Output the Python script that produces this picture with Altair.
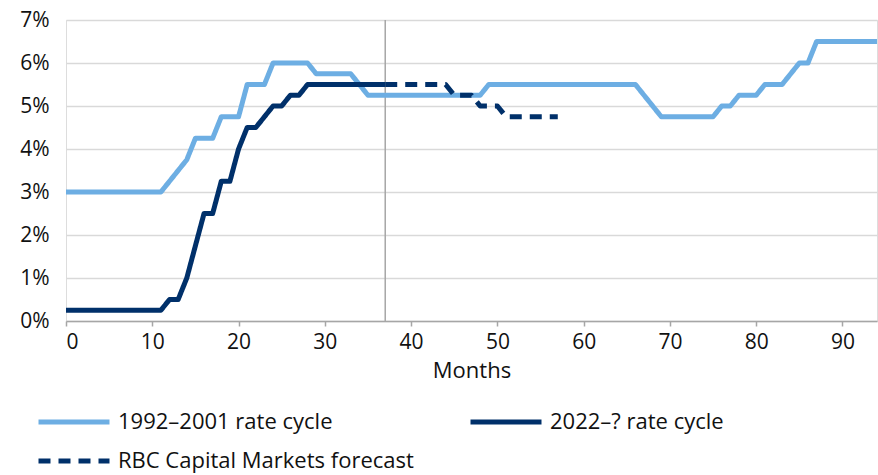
import altair as alt
import pandas as pd

SERIES = ["1992–2001 rate cycle", "2022–? rate cycle", "RBC Capital Markets forecast"]
COLORS = ["#6DAEE3", "#00306A", "#00306A"]

# 1992–2001 cycle, monthly, months 0..94
cycle_1992 = [
    3.0, 3.0, 3.0, 3.0, 3.0, 3.0, 3.0, 3.0, 3.0, 3.0,      # 0-9
    3.0, 3.0, 3.25, 3.5, 3.75, 4.25, 4.25, 4.25, 4.75, 4.75,  # 10-19
    4.75, 5.5, 5.5, 5.5, 6.0, 6.0, 6.0, 6.0, 6.0, 5.75,    # 20-29
    5.75, 5.75, 5.75, 5.75, 5.5, 5.25, 5.25, 5.25, 5.25, 5.25,  # 30-39
    5.25, 5.25, 5.25, 5.25, 5.25, 5.25, 5.25, 5.25, 5.25, 5.5,  # 40-49
    5.5, 5.5, 5.5, 5.5, 5.5, 5.5, 5.5, 5.5, 5.5, 5.5,      # 50-59
    5.5, 5.5, 5.5, 5.5, 5.5, 5.5, 5.5, 5.25, 5.0, 4.75,    # 60-69
    4.75, 4.75, 4.75, 4.75, 4.75, 4.75, 5.0, 5.0, 5.25, 5.25,  # 70-79
    5.25, 5.5, 5.5, 5.5, 5.75, 6.0, 6.0, 6.5, 6.5, 6.5,    # 80-89
    6.5, 6.5, 6.5, 6.5, 6.5,                               # 90-94
]
# 2022–? cycle, months 0..37
cycle_2022 = [
    0.25, 0.25, 0.25, 0.25, 0.25, 0.25, 0.25, 0.25, 0.25, 0.25,  # 0-9
    0.25, 0.25, 0.5, 0.5, 1.0, 1.75, 2.5, 2.5, 3.25, 3.25,       # 10-19
    4.0, 4.5, 4.5, 4.75, 5.0, 5.0, 5.25, 5.25, 5.5, 5.5,         # 20-29
    5.5, 5.5, 5.5, 5.5, 5.5, 5.5, 5.5, 5.5,                      # 30-37
]
# RBC Capital Markets forecast, months 37..57
forecast_start = 37
forecast = [
    5.5, 5.5, 5.5, 5.5, 5.5, 5.5, 5.5, 5.5,   # 37-44
    5.25, 5.25, 5.25, 5.0, 5.0, 5.0,          # 45-50
    4.75, 4.75, 4.75, 4.75, 4.75, 4.75, 4.75, # 51-57
]
current_month = 37

rows = []
for i, v in enumerate(cycle_1992):
    rows.append({"month": i, "rate": v, "series": SERIES[0]})
for i, v in enumerate(cycle_2022):
    rows.append({"month": i, "rate": v, "series": SERIES[1]})
for i, v in enumerate(forecast):
    rows.append({"month": forecast_start + i, "rate": v, "series": SERIES[2]})
df = pd.DataFrame(rows)

FONT = "Open Sans"
FS = 21
FS_TEXT = 22
TXT = "#111111"

x_enc = alt.X(
    "month:Q",
    scale=alt.Scale(domain=[0, 94], nice=False, zero=False),
    axis=alt.Axis(
        values=list(range(0, 100, 10)), title="Months", grid=False,
        domainColor="#A6A6A6", domainWidth=1.5, tickColor="#A6A6A6", tickWidth=1.5,
        tickSize=5, labelFontSize=FS, titleFontSize=FS_TEXT, titleFontWeight="normal",
        labelColor=TXT, titleColor=TXT, labelPadding=5, titlePadding=8,
        labelFont=FONT, titleFont=FONT,
    ),
)
y_enc = alt.Y(
    "rate:Q",
    scale=alt.Scale(domain=[0, 7], nice=False),
    axis=alt.Axis(
        values=[0, 1, 2, 3, 4, 5, 6, 7], title=None, domain=False, ticks=False,
        gridColor="#D9D9D9", gridWidth=1.5, labelFontSize=FS, labelColor=TXT,
        labelPadding=17, labelFont=FONT, labelExpr="datum.value + '%'",
    ),
)

# long horizontal legend swatch drawn as a custom path on a small symbol size
legend = alt.Legend(
    title=None, orient="none", direction="horizontal", legendX=-3, legendY=391,
    columns=2, columnPadding=46, rowPadding=17,
    symbolType="M-7.1,0H7.1", symbolSize=100,
    symbolStrokeWidth=5, labelFontSize=FS_TEXT, labelFont=FONT, labelColor=TXT,
    labelOffset=33, labelLimit=500,
)
color_enc = alt.Color(
    "series:N", scale=alt.Scale(domain=SERIES, range=COLORS), legend=legend,
)
dash_enc = alt.StrokeDash(
    "series:N",
    scale=alt.Scale(domain=SERIES, range=[[1, 0], [1, 0], [12, 8]]),
    legend=legend,
)

def series_line(name):
    return alt.Chart(df).transform_filter(alt.datum.series == name).mark_line(
        strokeWidth=5, strokeCap="butt", strokeJoin="round"
    ).encode(x=x_enc, y=y_enc, color=color_enc, strokeDash=dash_enc)

vline = alt.Chart(pd.DataFrame({"month": [current_month]})).mark_rule(
    color="#A6A6A6", strokeWidth=1.5
).encode(x=alt.X("month:Q"))

chart = alt.layer(
    vline, series_line(SERIES[0]), series_line(SERIES[1]), series_line(SERIES[2])
).properties(
    width=811, height=301,
    autosize=alt.AutoSizeParams(type="none"),
    padding={"left": 66, "top": 20, "right": 1, "bottom": 154},
).configure_view(stroke=None).configure(background="white")

chart.save("out.html", embed_options={"renderer": "svg", "actions": False})
